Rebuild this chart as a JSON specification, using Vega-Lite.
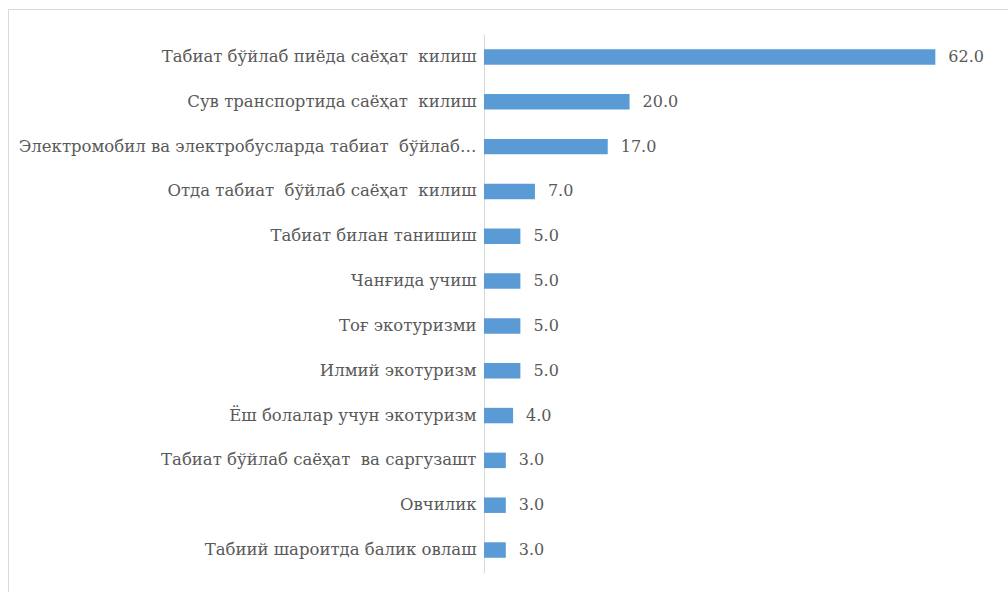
{
  "$schema": "https://vega.github.io/schema/vega-lite/v6.json",
  "width": 1000,
  "height": 583,
  "autosize": {"type": "none"},
  "padding": {"left": 8, "top": 9, "right": 0, "bottom": 0},
  "background": "white",
  "config": {
    "view": {"stroke": "#d9d9d9", "strokeWidth": 1},
    "font": "DejaVu Serif"
  },
  "data": {
    "values": [
      {"label": "Табиат бўйлаб пиёда саёҳат \u00a0килиш", "value": 62.0},
      {"label": "Сув транспортида саёҳат \u00a0килиш", "value": 20.0},
      {"label": "Электромобил ва электробусларда табиат \u00a0бўйлаб…", "value": 17.0},
      {"label": "Отда табиат \u00a0бўйлаб саёҳат \u00a0килиш", "value": 7.0},
      {"label": "Табиат билан танишиш", "value": 5.0},
      {"label": "Чанғида учиш", "value": 5.0},
      {"label": "Тоғ экотуризми", "value": 5.0},
      {"label": "Илмий экотуризм", "value": 5.0},
      {"label": "Ёш болалар учун экотуризм", "value": 4.0},
      {"label": "Табиат бўйлаб саёҳат \u00a0ва саргузашт", "value": 3.0},
      {"label": "Овчилик", "value": 3.0},
      {"label": "Табиий шароитда балик овлаш", "value": 3.0}
    ]
  },
  "encoding": {
    "y": {
      "field": "label",
      "type": "nominal",
      "sort": null,
      "scale": {"range": [25, 564], "paddingInner": 0.655, "paddingOuter": 0.34},
      "axis": {
        "title": null,
        "offset": -476,
        "domainColor": "#d9d9d9",
        "domainWidth": 1,
        "ticks": false,
        "grid": false,
        "labelPadding": 8,
        "labelFont": "DejaVu Serif",
        "labelFontSize": 16.5,
        "labelColor": "#595959",
        "labelLimit": 600
      }
    },
    "x": {
      "field": "value",
      "type": "quantitative",
      "scale": {"domain": [-65.38, 71.98], "nice": false, "zero": false},
      "axis": null
    }
  },
  "layer": [
    {"mark": {"type": "bar", "color": "#5b9bd5"}},
    {
      "mark": {
        "type": "text",
        "align": "left",
        "baseline": "middle",
        "dx": 13,
        "font": "DejaVu Serif",
        "fontSize": 16,
        "color": "#595959"
      },
      "encoding": {"text": {"field": "value", "type": "quantitative", "format": ".1f"}}
    }
  ]
}
